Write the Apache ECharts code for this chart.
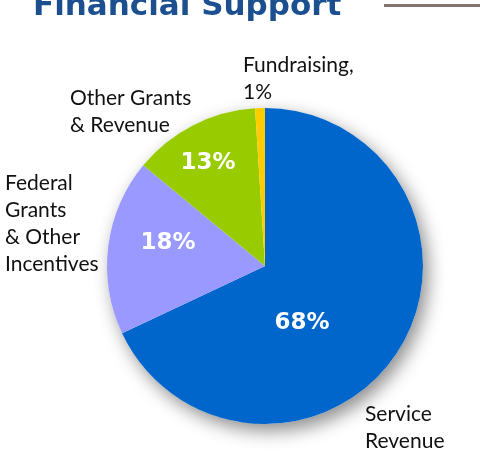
<!DOCTYPE html>
<html>
<head>
<meta charset="utf-8">
<script src="https://cdn.jsdelivr.net/npm/echarts@6/dist/echarts.min.js"></script>
<style>
html,body{margin:0;padding:0;background:#fff;}
#chart{width:480px;height:471px;}
</style>
</head>
<body>
<div id="chart"></div>
<script>
const categories = ['Service Revenue', 'Federal Grants & Other Incentives', 'Other Grants & Revenue', 'Fundraising'];
const values = [68, 18, 13, 1];
const outerLabels = ['Service\nRevenue', 'Federal\nGrants\n& Other\nIncentives', 'Other Grants\n& Revenue', 'Fundraising,\n1%'];
const innerLabels = ['68%', '18%', '13%', ''];
const sliceColors = ['#0066CC', '#9999FF', '#99CC00', '#FFCC00'];

const innerPos = [[302, 323], [168, 243], [208, 163], [0, 0]];
const outerPos = [[365, 401], [5, 170], [70, 85], [243, 52]];

const chart = echarts.init(document.getElementById('chart'));
const CENTER = [265, 266];
const R = 158;

chart.setOption({
  animation: false,
  graphic: [
    {type: 'text', x: 33, y: -9, style: {text: 'Financial Support', font: 'bold 31px "DejaVu Sans"', fill: '#1B4F8F'}},
    {type: 'rect', shape: {x: 384, y: 4, width: 96, height: 3}, style: {fill: '#85736E'}}
  ],
  series: [
    {
      type: 'pie', center: CENTER, radius: R, silent: true, z: 1,
      label: {show: false}, labelLine: {show: false},
      itemStyle: {color: '#ffffff', shadowBlur: 18, shadowColor: 'rgba(0,0,0,0.45)', shadowOffsetX: 5, shadowOffsetY: 7},
      data: [{value: 1, name: 'shadow'}]
    },
    {
      type: 'pie', center: CENTER, radius: R, startAngle: 90, clockwise: true, z: 2,
      avoidLabelOverlap: false,
      itemStyle: {borderWidth: 0},
      label: {
        show: true, position: 'inside',
        formatter: p => innerLabels[p.dataIndex],
        color: '#ffffff', fontFamily: 'DejaVu Sans', fontWeight: 'bold', fontSize: 23
      },
      labelLine: {show: false},
      labelLayout: p => ({x: innerPos[p.dataIndex][0], y: innerPos[p.dataIndex][1], align: 'center', verticalAlign: 'middle'}),
      data: categories.map((c, i) => ({name: c, value: values[i], itemStyle: {color: sliceColors[i]}}))
    },
    {
      type: 'pie', center: CENTER, radius: R, startAngle: 90, clockwise: true, z: 3, silent: true,
      avoidLabelOverlap: false,
      itemStyle: {color: 'rgba(0,0,0,0)'},
      label: {
        show: true, position: 'outside',
        formatter: p => outerLabels[p.dataIndex],
        color: '#111111', fontFamily: 'Lato', fontWeight: 'normal', fontSize: 21, lineHeight: 27
      },
      labelLine: {show: false},
      labelLayout: p => ({x: outerPos[p.dataIndex][0], y: outerPos[p.dataIndex][1], align: 'left', verticalAlign: 'top'}),
      data: categories.map((c, i) => ({name: c, value: values[i]}))
    }
  ]
});
</script>
</body>
</html>
